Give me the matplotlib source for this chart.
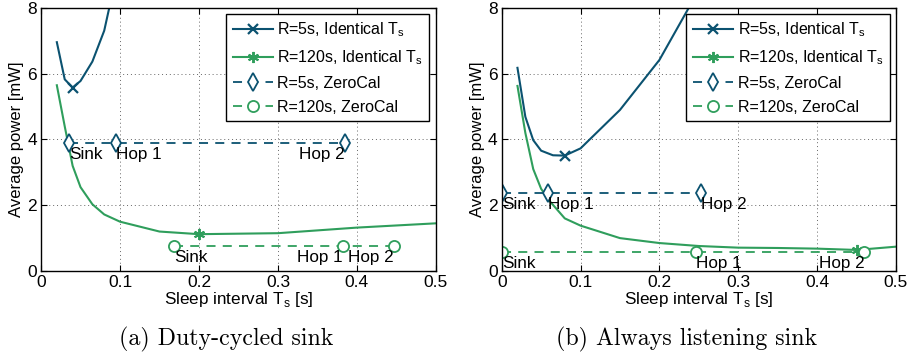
import matplotlib
matplotlib.use("Agg")
import matplotlib.pyplot as plt

# ─── Data ────────────────────────────────────────────────────────────────────
# (a) Duty-cycled sink
a_r5_x = [0.02, 0.03, 0.04, 0.05, 0.065, 0.08, 0.09]
a_r5_y = [6.96, 5.83, 5.58, 5.78, 6.37, 7.31, 8.4]
a_r5_min = 2
a_r120_x = [0.02, 0.03, 0.04, 0.05, 0.065, 0.08, 0.1, 0.15, 0.2, 0.3, 0.4, 0.5]
a_r120_y = [5.65, 4.4, 3.2, 2.55, 2.03, 1.72, 1.5, 1.2, 1.12, 1.15, 1.32, 1.45]
a_r120_min = 8
a_zc5_x = [0.035, 0.095, 0.385]
a_zc5_y = [3.88, 3.88, 3.88]
a_zc120_x = [0.168, 0.382, 0.447]
a_zc120_y = [0.75, 0.75, 0.75]

# (b) Always listening sink
b_r5_x = [0.02, 0.03, 0.04, 0.05, 0.065, 0.08, 0.1, 0.15, 0.2, 0.25]
b_r5_y = [6.18, 4.69, 3.98, 3.66, 3.52, 3.51, 3.73, 4.9, 6.42, 8.55]
b_r5_min = 5
b_r120_x = [0.02, 0.03, 0.04, 0.05, 0.06, 0.08, 0.1, 0.15, 0.2, 0.25, 0.3,
            0.35, 0.4, 0.45, 0.5]
b_r120_y = [5.63, 4.2, 3.1, 2.5, 2.15, 1.6, 1.38, 1.0, 0.85, 0.76, 0.71,
            0.70, 0.68, 0.64, 0.74]
b_r120_min = 13
b_zc5_x = [0.001, 0.059, 0.253]
b_zc5_y = [2.38, 2.38, 2.38]
b_zc120_x = [0.001, 0.246, 0.46]
b_zc120_y = [0.59, 0.59, 0.59]

hop_names = ["Sink", "Hop 1", "Hop 2"]
# horizontal alignment of each hop label, per ZeroCal series
a_zc5_ha = ["left", "left", "right"]
a_zc120_ha = ["left", "right", "right"]
b_zc5_ha = ["left", "left", "left"]
b_zc120_ha = ["left", "left", "right"]

captions = ["(a) Duty-cycled sink", "(b) Always listening sink"]

BLUE = "#0b5270"
GREEN = "#2f9e5c"
SANS = "Liberation Sans"
FS = 11.5

plt.rcParams["font.family"] = SANS
plt.rcParams["mathtext.fontset"] = "custom"
plt.rcParams["mathtext.rm"] = SANS

fig = plt.figure(figsize=(9.14, 3.62), dpi=100)
ax_a = fig.add_axes([0.0449, 0.2514, 0.432, 0.7265])
ax_b = fig.add_axes([0.5489, 0.2514, 0.4314, 0.7265])

panels = [
    (ax_a, a_r5_x, a_r5_y, a_r5_min, a_r120_x, a_r120_y, a_r120_min,
     a_zc5_x, a_zc5_y, a_zc5_ha, a_zc120_x, a_zc120_y, a_zc120_ha),
    (ax_b, b_r5_x, b_r5_y, b_r5_min, b_r120_x, b_r120_y, b_r120_min,
     b_zc5_x, b_zc5_y, b_zc5_ha, b_zc120_x, b_zc120_y, b_zc120_ha),
]

ASTERISK = (6, 2, 0)

for i, (ax, r5x, r5y, r5m, r120x, r120y, r120m,
        z5x, z5y, z5ha, z120x, z120y, z120ha) in enumerate(panels):
    ax.plot(r5x, r5y, color=BLUE, lw=1.5, marker="x", ms=7, mew=1.6,
            markevery=[r5m], label=r"R=5s, Identical T$_\mathregular{s}$")
    ax.plot(r120x, r120y, color=GREEN, lw=1.5, marker=ASTERISK, ms=8, mew=1.4,
            markevery=[r120m], label=r"R=120s, Identical T$_\mathregular{s}$")
    ax.plot(z5x, z5y, color=BLUE, lw=1.3, ls=(0, (5, 4)), marker="d", ms=9,
            mfc="white", mew=1.3, label="R=5s, ZeroCal")
    ax.plot(z120x, z120y, color=GREEN, lw=1.3, ls=(0, (5, 4)), marker="o", ms=8,
            mfc="white", mew=1.3, label="R=120s, ZeroCal")

    for xs, ys, has in [(z5x, z5y, z5ha), (z120x, z120y, z120ha)]:
        for x, y, name, ha in zip(xs, ys, hop_names, has):
            ax.text(x, y - 0.12, name, ha=ha, va="top", fontsize=12.3,
                    clip_on=False)

    ax.set_xlim(0, 0.5)
    ax.set_ylim(0, 8)
    ax.set_xticks([0, 0.1, 0.2, 0.3, 0.4, 0.5])
    ax.set_xticklabels(["0", "0.1", "0.2", "0.3", "0.4", "0.5"])
    ax.set_yticks([0, 2, 4, 6, 8])
    ax.tick_params(direction="in", length=4, width=0.8, labelsize=12.5,
                   top=True, right=True, pad=3)
    ax.grid(True, ls=(0, (1, 3)), color="#666666", lw=0.7)
    for sp in ax.spines.values():
        sp.set_linewidth(1.0)
    ax.set_xlabel(r"Sleep interval T$_\mathregular{s}$ [s]", fontsize=12.3,
                  labelpad=0)
    ax.set_ylabel("Average power [mW]", fontsize=12, labelpad=2)

    leg = ax.legend(loc="upper right", fontsize=FS, handlelength=2.5,
                    handletextpad=0.3, labelspacing=0.55, borderpad=0.4,
                    borderaxespad=0.4, fancybox=False, framealpha=1)
    leg.get_frame().set_edgecolor("black")
    leg.get_frame().set_linewidth(1.0)

    ax.text(0.47, -0.262, captions[i], transform=ax.transAxes, ha="center",
            va="center", fontsize=17.2, family="cmr10")

fig.savefig("out.png", dpi=100)
